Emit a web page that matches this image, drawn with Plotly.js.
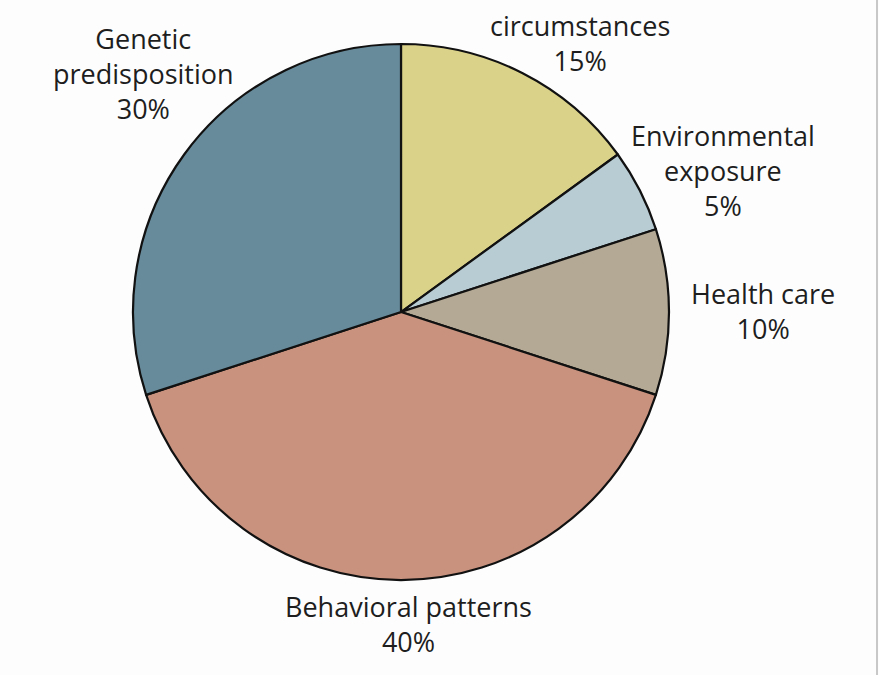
<!DOCTYPE html>
<html>
<head>
<meta charset="utf-8">
<script src="https://cdn.plot.ly/plotly-3.0.1.min.js"></script>
<style>
html,body{margin:0;padding:0;background:#fdfdfd;}
#chart{width:879px;height:675px;}
#edge{position:absolute;left:876px;top:0;width:2px;height:675px;background:#c8c8c8;}
</style>
</head>
<body>
<div id="chart"></div>
<div id="edge"></div>
<script>
const categories = ["circumstances", "Environmental<br>exposure", "Health care", "Behavioral patterns", "Genetic<br>predisposition"];
const values = [15, 5, 10, 40, 30];
const colors = ["#dbd28a", "#b8ccd4", "#b4a994", "#c8927e", "#678b9b"];
// label block centres (paper coords) for each category
const labelX = [0.66, 0.8225, 0.868, 0.4653, 0.1638];
const labelY = [0.9356, 0.7481, 0.54, 0.0756, 0.8904];

const annotations = categories.map((c, i) => ({
  text: c + "<br>" + values[i] + "%",
  x: labelX[i], y: labelY[i], xref: "paper", yref: "paper",
  xanchor: "center", yanchor: "middle", showarrow: false, align: "center",
  font: {family: "Open Sans, Noto Sans, sans-serif", size: 27, color: "#1e1e1e"}
}));

Plotly.newPlot("chart", [{
  type: "pie",
  labels: categories,
  values: values,
  sort: false,
  direction: "clockwise",
  rotation: 0,
  textinfo: "none",
  hoverinfo: "label+percent",
  marker: {colors: colors, line: {color: "#111111", width: 2.2}},
  domain: {x: [0.1513, 0.7611], y: [0.1407, 0.9348]}
}], {
  width: 879, height: 675,
  margin: {l: 0, r: 0, t: 0, b: 0},
  paper_bgcolor: "#fdfdfd",
  showlegend: false,
  annotations: annotations
}, {displayModeBar: false, staticPlot: true});
</script>
</body>
</html>
